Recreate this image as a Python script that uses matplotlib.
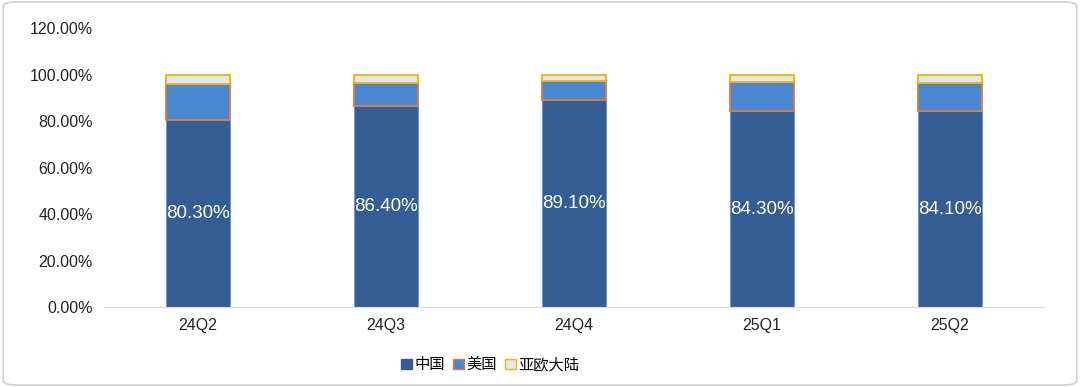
import numpy as np
import matplotlib.pyplot as plt
from matplotlib.patches import FancyBboxPatch, Patch

plt.rcParams['font.family'] = ['Liberation Sans', 'Noto Sans CJK SC', 'DejaVu Sans']

# data
quarters = ['24Q2', '24Q3', '24Q4', '25Q1', '25Q2']
china = [80.3, 86.4, 89.1, 84.3, 84.1]
usa = [15.8, 10.0, 8.0, 12.4, 12.3]
other = [3.9, 3.6, 2.9, 3.3, 3.6]

c_china = '#335D93'
c_usa = '#4A87D1'
c_other = '#E3E7E6'

fig = plt.figure(figsize=(10.8, 3.87), dpi=100)
# rounded grey frame around the card
fig.patches.append(FancyBboxPatch((0.003, 0.005), 0.994, 0.99,
                                  boxstyle='round,pad=0,rounding_size=0.012',
                                  transform=fig.transFigure, facecolor='none',
                                  edgecolor='#CFCFCF', linewidth=1.2, zorder=-1))
ax = fig.add_axes([0.0963, 0.2067, 0.8704, 0.7209])
ax.set_facecolor('none')

x = np.arange(len(quarters))
w = 0.34
china = np.array(china)
usa = np.array(usa)
other = np.array(other)

ax.bar(x, china, w, color=c_china, edgecolor='#6E9BE0', linewidth=0.8)
ax.bar(x, usa, w, bottom=china, color=c_usa, edgecolor='#E07B35', linewidth=1.3)
ax.bar(x, other, w, bottom=china + usa, color=c_other, edgecolor='#EDB511', linewidth=1.3)

for i in range(len(x)):
    ax.text(x[i], china[i] / 2, f'{china[i]:.2f}%', ha='center', va='center',
            color='white', fontsize=13.5)

ax.set_xlim(-0.5, len(x) - 0.5)
ax.set_ylim(0, 120)
ax.set_yticks(np.arange(0, 121, 20))
ax.set_yticklabels([f'{v:.2f}%' for v in range(0, 121, 20)])
ax.set_xticks(x)
ax.set_xticklabels(quarters)
ax.tick_params(length=0, labelsize=11.5, colors='#222222')
ax.tick_params(axis='y', pad=8)
ax.tick_params(axis='x', pad=8, labelsize=11.5)
for s in ['top', 'right', 'left']:
    ax.spines[s].set_visible(False)
ax.spines['bottom'].set_color('#D9D9D9')

handles = [Patch(facecolor=c_china, edgecolor=c_china),
           Patch(facecolor=c_usa, edgecolor='#E07B35'),
           Patch(facecolor=c_other, edgecolor='#EDB511')]
fig.legend(handles, ['中国', '美国', '亚欧大陆'], loc='center', bbox_to_anchor=(0.454, 0.057),
           ncol=3, frameon=False, fontsize=11, handlelength=0.7, handleheight=0.7,
           handletextpad=0.2, columnspacing=0.5)

fig.savefig('out.png', dpi=100)
